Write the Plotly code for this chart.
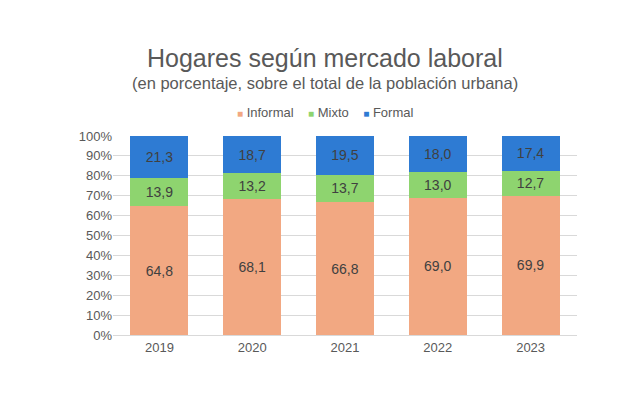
import plotly.graph_objects as go

years = ["2019", "2020", "2021", "2022", "2023"]
informal = [64.8, 68.1, 66.8, 69.0, 69.9]
mixto = [13.9, 13.2, 13.7, 13.0, 12.7]
formal = [21.3, 18.7, 19.5, 18.0, 17.4]
series_names = ["Informal", "Mixto", "Formal"]
colors = ["#F2A882", "#8ED46F", "#2E7BD3"]

def fmt(v):
    return f"{v:.1f}".replace(".", ",")

fig = go.Figure()
for name, vals, col in zip(series_names, [informal, mixto, formal], colors):
    fig.add_trace(go.Bar(
        x=years, y=vals, name=name, marker=dict(color=col, line=dict(width=0)),
        text=[fmt(v) for v in vals], textposition="inside", insidetextanchor="middle",
        textfont=dict(color="#404040", size=14, family="Liberation Sans, Arial"),
        textangle=0, showlegend=False,
    ))

legend_text = "&nbsp;&nbsp;&nbsp;&nbsp;".join(
    f"<span style='color:{c}; font-size:10px'>■</span>&nbsp;{n}" for n, c in zip(series_names, colors)
)

fig.update_layout(
    barmode="stack",
    width=630, height=420,
    margin=dict(l=105, r=61, t=128, b=93),
    paper_bgcolor="white", plot_bgcolor="white",
    bargap=0.375,
    font=dict(family="Liberation Sans, Arial", color="#595959", size=13),
    uniformtext=dict(minsize=8, mode="show"),
    annotations=[
        dict(text="Hogares según mercado laboral", x=0.457, y=1.392, xref="paper", yref="paper",
             xanchor="center", yanchor="middle", showarrow=False,
             font=dict(size=25, color="#595959")),
        dict(text="(en porcentaje, sobre el total de la población urbana)", x=0.457, y=1.266,
             xref="paper", yref="paper", xanchor="center", yanchor="middle", showarrow=False,
             font=dict(size=16.5, color="#595959")),
        dict(text=legend_text, x=0.457, y=1.12, xref="paper", yref="paper",
             xanchor="center", yanchor="middle", showarrow=False,
             font=dict(size=13, color="#595959")),
    ],
)
fig.update_yaxes(range=[0, 100], dtick=10, ticksuffix="%", gridcolor="#D9D9D9",
                 zeroline=False, showline=False, tickfont=dict(size=13, color="#595959"),
                 ticks="", ticklen=0)
fig.update_xaxes(showline=True, linecolor="#D9D9D9", tickfont=dict(size=13, color="#595959"),
                 ticks="")
fig.write_html("out.html")
